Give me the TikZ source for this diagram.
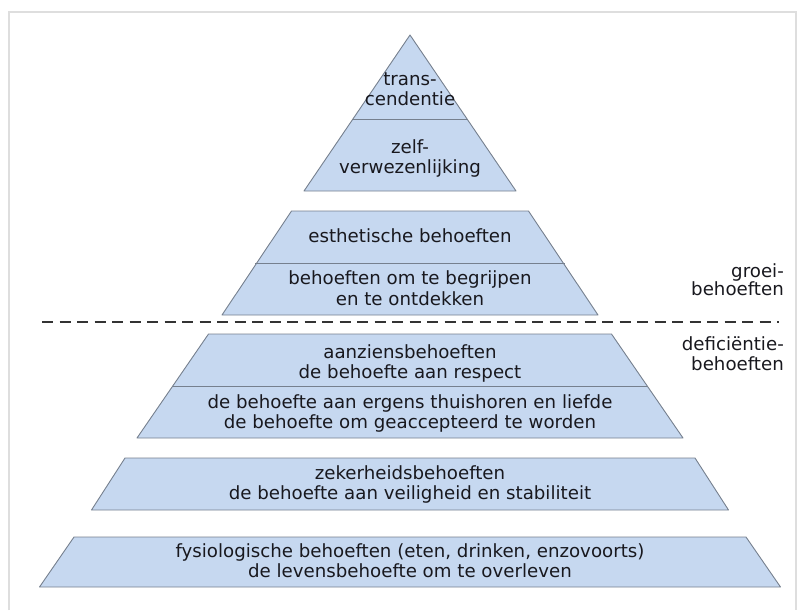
\documentclass[tikz,border=0pt]{standalone}
\usepackage{fontspec}
\newfontfamily\pyrfont{DejaVu Sans}
\definecolor{layerfill}{RGB}{198,216,240}
\definecolor{layerline}{RGB}{118,128,142}
\definecolor{txt}{RGB}{24,24,30}
\definecolor{framecol}{RGB}{222,222,222}
\begin{document}
\begin{tikzpicture}[x=1pt,y=-1pt,
  layer/.style={fill=layerfill,draw=layerline,line width=0.9pt,line join=round},
  divline/.style={draw=layerline,line width=0.9pt},
  lbl/.style={text=txt,font=\pyrfont\fontsize{18.2}{20}\selectfont,inner sep=0pt,anchor=base},
  side/.style={text=txt,font=\pyrfont\fontsize{18.2}{20}\selectfont,inner sep=0pt,anchor=base east},
  sep/.style={draw=black!80,line width=1.8pt,dash pattern=on 11pt off 6.5pt}]
\useasboundingbox (0,0) rectangle (799,610);
% page frame
\draw[framecol,line width=1.2pt] (9,610) -- (9,12) -- (796,12) -- (796,610);
% top triangle
\path[layer] (410,35) -- (516,191) -- (304,191) -- cycle;
\draw[divline] (353,119) -- (467,119);
% second layer
\path[layer] (291.5,211) -- (528.5,211) -- (598,315) -- (222,315) -- cycle;
\draw[divline] (255,263) -- (565,263);
% separator
\coordinate (sepL) at (42,322);
\coordinate (sepR) at (779,322);
\draw[sep] (sepL) -- (sepR);
% third layer
\path[layer] (208.5,334) -- (611.5,334) -- (683,438) -- (137,438) -- cycle;
\draw[divline] (173,386) -- (647,386);
% fourth layer
\path[layer] (125,458) -- (695,458) -- (728.5,510) -- (91.5,510) -- cycle;
% fifth layer
\path[layer] (74,537) -- (746,537) -- (780.5,587) -- (39.5,587) -- cycle;
% texts
\node[lbl] (t1a) at (410,85) {trans-};
\node[lbl] (t1b) at (410,105) {cendentie};
\node[lbl] (t2a) at (410,153) {zelf-};
\node[lbl] (t2b) at (410,173) {verwezenlijking};
\node[lbl] (t3) at (410,242) {esthetische behoeften};
\node[lbl] (t4a) at (410,284) {behoeften om te begrijpen};
\node[lbl] (t4b) at (410,305) {en te ontdekken};
\node[lbl] (t5a) at (410,358) {aanziensbehoeften};
\node[lbl] (t5b) at (410,378) {de behoefte aan respect};
\node[lbl] (t6a) at (410,408) {de behoefte aan ergens thuishoren en liefde};
\node[lbl] (t6b) at (410,428) {de behoefte om geaccepteerd te worden};
\node[lbl] (t7a) at (410,479) {zekerheidsbehoeften};
\node[lbl] (t7b) at (410,499) {de behoefte aan veiligheid en stabiliteit};
\node[lbl] (t8a) at (410,557) {fysiologische behoeften (eten, drinken, enzovoorts)};
\node[lbl] (t8b) at (410,577) {de levensbehoefte om te overleven};
\node[side] (g1) at (784,277) {groei-};
\node[side] (g2) at (784,295) {behoeften};
\node[side] (d1) at (784,350) {deficiëntie-};
\node[side] (d2) at (784,370) {behoeften};
\end{tikzpicture}
\end{document}
